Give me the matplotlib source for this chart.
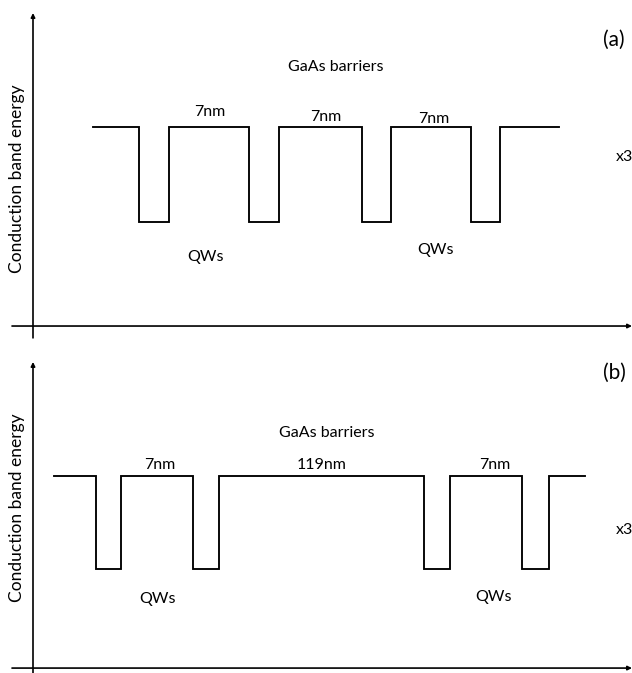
import matplotlib.pyplot as plt

plt.rcParams['font.family'] = ['Lato', 'DejaVu Sans']

# band profile: barrier level 1, well level 0; x positions along the growth direction
barrier_e = 1.0
well_e = 0.0

start_a, end_a = 93, 559
well_left_a = [139, 249, 362, 471]
well_right_a = [169, 279, 391, 500]
spacers_a = ['7nm', '7nm', '7nm']

start_b, end_b = 54, 585
well_left_b = [96, 193, 424, 522]
well_right_b = [121, 219, 450, 549]
spacers_b = ['7nm', '119nm', '7nm']

LABEL_SIZE = 11.5


def profile(start, end, lefts, rights):
    xs = [start]
    ys = [barrier_e]
    for l, r in zip(lefts, rights):
        xs += [l, l, r, r]
        ys += [barrier_e, well_e, well_e, barrier_e]
    xs.append(end)
    ys.append(barrier_e)
    return xs, ys


def draw_axes_arrows(ax, x_axis_y, y_top, y_bottom):
    ax.annotate('', xy=(632, x_axis_y), xytext=(12, x_axis_y),
                arrowprops=dict(arrowstyle='-|>', lw=1.2, color='black',
                                mutation_scale=6, shrinkA=0, shrinkB=0),
                annotation_clip=False)
    ax.annotate('', xy=(33, y_top), xytext=(33, y_bottom),
                arrowprops=dict(arrowstyle='-|>', lw=1.2, color='black',
                                mutation_scale=6, shrinkA=0, shrinkB=0),
                annotation_clip=False)


fig = plt.figure(figsize=(6.32, 6.73), dpi=100)

# panel (a)
ax1 = fig.add_axes([0, 1 - 336 / 673, 1, 336 / 673])
ax1.set_xlim(0, 632)
ax1.set_ylim(-1.2, 2.337)
ax1.axis('off')
xs, ys = profile(start_a, end_a, well_left_a, well_right_a)
ax1.plot(xs, ys, color='black', lw=1.35, solid_joinstyle='miter')
draw_axes_arrows(ax1, -1.095, 2.2, -1.22)
ax1.text(17, 0.46, 'Conduction band energy', rotation=90, ha='center', va='center', fontsize=12.5)
ax1.text(336, 1.63, 'GaAs barriers', ha='center', va='center', fontsize=LABEL_SIZE)
for x, y, s in zip([210, 326, 434], [1.16, 1.105, 1.084], spacers_a):
    ax1.text(x, y, s, ha='center', va='center', fontsize=LABEL_SIZE)
ax1.text(205, -0.37, 'QWs', ha='center', va='center', fontsize=LABEL_SIZE)
ax1.text(435, -0.295, 'QWs', ha='center', va='center', fontsize=LABEL_SIZE)
ax1.text(614, 1.916, '(a)', ha='center', va='center', fontsize=15)
ax1.text(616, 0.684, 'x3', ha='left', va='center', fontsize=LABEL_SIZE)

# panel (b)
ax2 = fig.add_axes([0, 0, 1, 337 / 673])
ax2.set_xlim(0, 632)
ax2.set_ylim(-1.118, 2.505)
ax2.axis('off')
xs, ys = profile(start_b, end_b, well_left_b, well_right_b)
ax2.plot(xs, ys, color='black', lw=1.35, solid_joinstyle='miter')
draw_axes_arrows(ax2, -1.065, 2.226, -1.118)
ax2.text(17, 0.656, 'Conduction band energy', rotation=90, ha='center', va='center', fontsize=12.5)
ax2.text(327, 1.462, 'GaAs barriers', ha='center', va='center', fontsize=LABEL_SIZE)
for x, s in zip([160, 322, 495], spacers_b):
    ax2.text(x, 1.118, s, ha='center', va='center', fontsize=LABEL_SIZE)
ax2.text(158, -0.323, 'QWs', ha='center', va='center', fontsize=LABEL_SIZE)
ax2.text(494, -0.301, 'QWs', ha='center', va='center', fontsize=LABEL_SIZE)
ax2.text(614, 2.108, '(b)', ha='center', va='center', fontsize=15)
ax2.text(616, 0.419, 'x3', ha='left', va='center', fontsize=LABEL_SIZE)

fig.savefig('out.png', dpi=100)
